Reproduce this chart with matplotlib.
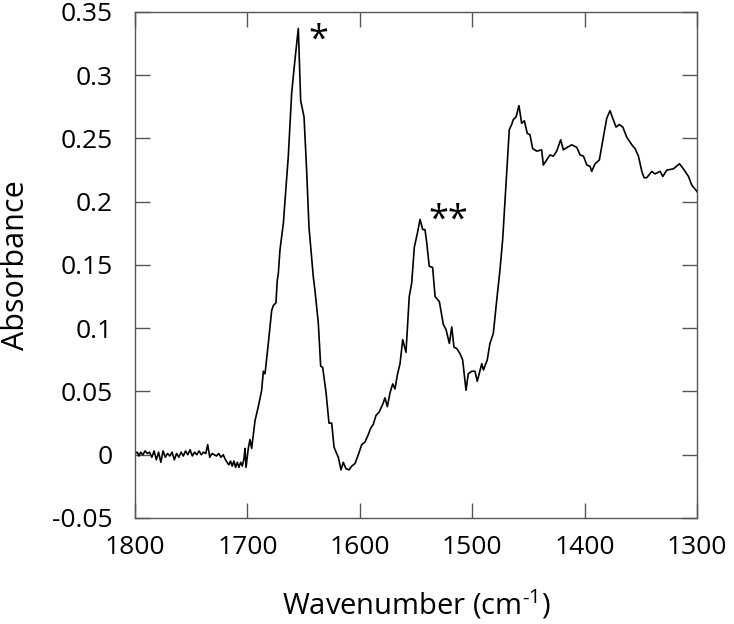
import matplotlib
matplotlib.use("Agg")
import matplotlib.pyplot as plt

# ---- data ----
wavenumber = [
    1800, 1798, 1796.5, 1795, 1793, 1791, 1789, 1787, 1785, 1783, 1781, 1779, 1777, 1775,
    1773, 1771, 1769, 1767, 1765, 1763, 1761, 1759, 1757, 1755, 1753, 1751, 1749, 1747,
    1745, 1743, 1741, 1739, 1737, 1735.3, 1733.5, 1731.5, 1729.5, 1727.5, 1725.5, 1723.5,
    1721.5, 1719.5, 1718, 1716.5, 1715, 1713.5, 1712, 1710.5, 1709, 1707.5, 1706, 1704.5,
    1703, 1702.1, 1701.2, 1699.2, 1697.7, 1696.2, 1693.2, 1690.3, 1687.3, 1685.8, 1684.3,
    1681.4, 1678.4, 1676.9, 1674.6, 1673.4, 1672.5, 1671, 1668, 1663.6, 1660.6, 1657.7,
    1654.7, 1652.6, 1649.6, 1647.3, 1645.2, 1641.4, 1639.9, 1636.9, 1634.8, 1633, 1630,
    1627.4, 1625, 1622.9, 1620.6, 1619.1, 1616.7, 1614.7, 1612.3, 1609.6, 1607.2, 1604.3,
    1601.3, 1598.3, 1595.4, 1592.4, 1590.3, 1588, 1585.6, 1582.6, 1579.1, 1577.6, 1575.5,
    1573.1, 1570.7, 1568.7, 1566.6, 1564.2, 1561.8, 1558.9, 1556, 1553.8, 1551.5, 1548.8,
    1546.4, 1544, 1542, 1540.5, 1538.2, 1535.2, 1533, 1529.2, 1525.7, 1523.3, 1520.3,
    1518.2, 1516.2, 1513.8, 1510.9, 1508.5, 1505.5, 1503.5, 1500.4, 1497.5, 1495.5,
    1491.5, 1490, 1486.6, 1484.2, 1481.2, 1478.2, 1475.3, 1472.9, 1470.8, 1469.3, 1467,
    1464.9, 1463.4, 1461, 1458.4, 1456, 1453.6, 1451, 1448.6, 1446.2, 1442.6, 1438.2,
    1436.7, 1433.7, 1430.8, 1427.8, 1424.8, 1421.3, 1418.9, 1415.4, 1411.5, 1407, 1404,
    1401, 1398, 1395.2, 1393.7, 1390.7, 1386.9, 1383.3, 1380.3, 1377.4, 1375, 1372,
    1369.1, 1366, 1362.5, 1358, 1355.1, 1352.1, 1349.1, 1347.1, 1344.7, 1340.2, 1337.3,
    1332.8, 1330.4, 1326.9, 1321, 1315.6, 1312.1, 1307.6, 1304.6, 1300.8, 1300,
]
absorbance = [
    0.001, 0.002, -0.001, 0.002, 0.000, 0.003, 0.001, 0.002, -0.002, 0.003, -0.004, 0.002,
    -0.006, 0.003, -0.002, 0.001, -0.001, 0.002, -0.004, 0.001, -0.002, 0.002, -0.001,
    0.003, 0.000, 0.004, -0.001, 0.002, 0.000, 0.003, 0.000, 0.002, 0.001, 0.008, -0.002,
    0.001, 0.000, -0.001, 0.001, -0.002, 0.000, -0.004, -0.006, -0.008, -0.005, -0.009,
    -0.005, -0.010, -0.006, -0.010, -0.006, -0.009, -0.003, 0.005, -0.010, 0.005, 0.012,
    0.005, 0.027, 0.038, 0.051, 0.066, 0.064, 0.088, 0.114, 0.118, 0.120, 0.138, 0.143,
    0.162, 0.183, 0.236, 0.286, 0.312, 0.337, 0.280, 0.267, 0.225, 0.180, 0.141, 0.130,
    0.104, 0.070, 0.069, 0.049, 0.025, 0.025, 0.006, 0.001, -0.002, -0.012, -0.006,
    -0.011, -0.012, -0.009, -0.007, 0.000, 0.008, 0.010, 0.016, 0.021, 0.024, 0.031,
    0.034, 0.041, 0.045, 0.038, 0.049, 0.056, 0.052, 0.063, 0.072, 0.091, 0.081, 0.125,
    0.136, 0.164, 0.175, 0.186, 0.178, 0.178, 0.168, 0.149, 0.148, 0.125, 0.121, 0.103,
    0.099, 0.088, 0.101, 0.085, 0.084, 0.080, 0.075, 0.051, 0.064, 0.066, 0.066, 0.058,
    0.072, 0.067, 0.075, 0.088, 0.096, 0.122, 0.146, 0.170, 0.201, 0.222, 0.257, 0.261,
    0.265, 0.267, 0.276, 0.262, 0.264, 0.254, 0.253, 0.242, 0.240, 0.241, 0.229, 0.233,
    0.237, 0.236, 0.240, 0.249, 0.241, 0.243, 0.245, 0.243, 0.237, 0.236, 0.229, 0.228,
    0.224, 0.230, 0.233, 0.251, 0.266, 0.272, 0.266, 0.259, 0.261, 0.259, 0.251, 0.245,
    0.242, 0.236, 0.224, 0.219, 0.219, 0.224, 0.222, 0.224, 0.220, 0.225, 0.226, 0.230,
    0.226, 0.220, 0.213, 0.209, 0.208,
]
x_ticks = [1800, 1700, 1600, 1500, 1400, 1300]
y_ticks = [-0.05, 0, 0.05, 0.1, 0.15, 0.2, 0.25, 0.3, 0.35]
y_tick_labels = ["-0.05", "0", "0.05", "0.1", "0.15", "0.2", "0.25", "0.3", "0.35"]
peak_marks = [("*", 1637, 0.327), ("**", 1521, 0.185)]

plt.rcParams["font.family"] = ["Open Sans", "DejaVu Sans"]
plt.rcParams["mathtext.fontset"] = "custom"
plt.rcParams["mathtext.rm"] = "Open Sans"
plt.rcParams["mathtext.fallback"] = "stixsans"

fig = plt.figure(figsize=(7.34, 6.24), dpi=100)
ax = fig.add_axes([0.1839, 0.1699, 0.9496 - 0.1839, 0.9808 - 0.1699])

ax.plot(wavenumber, absorbance, color="black", lw=1.2)

ax.set_xlim(1800, 1300)
ax.set_ylim(-0.05, 0.35)
ax.set_xticks(x_ticks)
ax.set_xticklabels([str(t) for t in x_ticks])
ax.set_yticks(y_ticks)
ax.set_yticklabels(y_tick_labels)

frame_col = "#555555"
for s in ax.spines.values():
    s.set_color(frame_col)
    s.set_linewidth(1.0)
ax.tick_params(direction="in", length=11, width=1.0, color=frame_col,
               top=True, right=True, labelsize=19)
ax.tick_params(axis="x", pad=12)
ax.tick_params(axis="y", pad=16)

ax.set_xlabel("Wavenumber (cm$^{\\mathrm{\u2010}\\mathrm{1}}$)", fontsize=21, labelpad=20)
ax.set_ylabel("Absorbance", fontsize=22, labelpad=15)

for txt, xw, ya in peak_marks:
    ax.text(xw, ya, txt, fontsize=26, ha="center", va="center")

fig.savefig("out.png", dpi=100)
